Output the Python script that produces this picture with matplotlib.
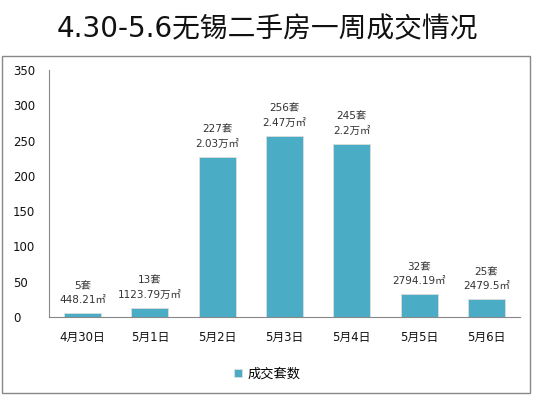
import matplotlib.pyplot as plt
from matplotlib.patches import Rectangle

plt.rcParams['font.family'] = ['DejaVu Sans', 'Noto Sans CJK SC']

# Data
dates = ['4月30日', '5月1日', '5月2日', '5月3日', '5月4日', '5月5日', '5月6日']
units = [5, 13, 227, 256, 245, 32, 25]
areas = ['448.21㎡', '1123.79万㎡', '2.03万㎡', '2.47万㎡', '2.2万㎡', '2794.19㎡', '2479.5㎡']

fig = plt.figure(figsize=(5.35, 3.96), dpi=100)

# outer frame
fig.patches.append(Rectangle((2 / 535, 3 / 396), 528 / 535, 337 / 396, transform=fig.transFigure,
                             fill=False, edgecolor='#888888', linewidth=1.0))

fig.text(0.5, 0.925, '4.30-5.6无锡二手房一周成交情况', ha='center', va='center', fontsize=20, color='#111111')

ax = fig.add_axes([49 / 535, 1 - 317 / 396, 471 / 535, 247 / 396])
x = range(len(dates))
ax.bar(x, units, width=0.55, color='#4BACC6', edgecolor='#dddddd', linewidth=0.6, label='成交套数')

for i, (u, a) in enumerate(zip(units, areas)):
    ax.annotate(f'{u}套\n{a}', (i, u), textcoords='offset points', xytext=(0, 6),
                ha='center', va='bottom', fontsize=7.5, color='#333333', linespacing=1.5)

ax.set_ylim(0, 350)
ax.set_xlim(-0.5, len(dates) - 0.5)
ax.set_yticks(range(0, 351, 50))
ax.set_xticks(list(x))
ax.set_xticklabels(dates)
ax.tick_params(axis='both', length=0, labelsize=8.5, colors='#111111')
ax.tick_params(axis='x', pad=10)
ax.tick_params(axis='y', pad=26)
for lbl in ax.get_yticklabels():
    lbl.set_horizontalalignment('left')

for s in ['top', 'right']:
    ax.spines[s].set_visible(False)
ax.spines['left'].set_color('#888888')
ax.spines['bottom'].set_color('#888888')

fig.legend(loc='center', bbox_to_anchor=(0.5, 1 - 374 / 396), frameon=False, fontsize=9.5,
           handlelength=0.6, handleheight=0.6, handletextpad=0.4)

fig.savefig('out.png', dpi=100)
